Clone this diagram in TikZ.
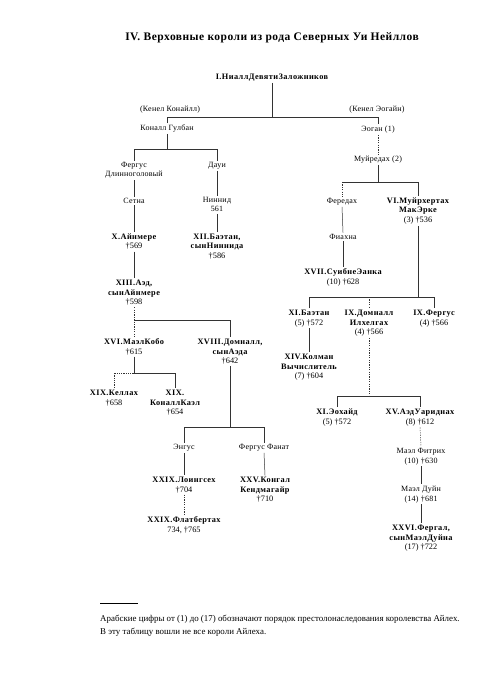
\documentclass[tikz,border=0pt]{standalone}
\usepackage{fontspec}
\setmainfont{Liberation Serif}
\begin{document}
\begin{tikzpicture}[x=1pt,y=-1pt,
  nm/.style={font=\fontsize{8}{9.5}\selectfont\addfontfeatures{LetterSpace=3}, align=center, inner sep=1.5pt, anchor=base},
  kg/.style={nm, font=\bfseries\fontsize{8.3}{9.5}\selectfont\addfontfeatures{LetterSpace=5}},
  ln/.style={line width=0.5pt, draw=black!80},
  dl/.style={ln, dash pattern=on 1.2pt off 1.2pt},
  dt/.style={ln, dash pattern=on 0.6pt off 1.2pt}]
\fill[white] (0,0) rectangle (499,700);
\useasboundingbox (0,0) rectangle (499,700);
% title
\node[anchor=base, inner sep=0pt, font=\bfseries\fontsize{11.5}{13}\selectfont\addfontfeatures{LetterSpace=4}] (title) at (272,41) {IV. Верховные короли из рода Северных Уи Нейллов};
% top
\node[kg] (niall) at (272,79.5) {I.НиаллДевятиЗаложников};
\node[nm] (kkon) at (170,111.5) {(Кенел Конайлл)};
\node[nm] (keog) at (377,111.5) {(Кенел Эогайн)};
\node[nm] (conall) at (167,130.5) {Коналл Гулбан};
\node[nm] (eogan) at (378,131.5) {Эоган (1)};
% left branch
\node[nm] (fergus) at (134,177) {Фергус\\Длинноголовый};
\node[nm] (daui) at (217,167.5) {Дауи};
\node[nm] (setna) at (134,203.5) {Сетна};
\node[nm] (ninnid) at (217,212) {Ниннид\\561};
\node[kg] (aynmere) at (134,249) {X.Айнмере\\\normalfont†569};
\node[kg] (baetan12) at (217,258.5) {XII.Баэтан,\\сынНиннида\\\normalfont†586};
\node[kg] (aed) at (134,304.5) {XIII.Аэд,\\сынАйнмере\\\normalfont†598};
\node[kg] (maelcobo) at (134,354) {XVI.МаэлКобо\\\normalfont†615};
\node[kg] (domnall18) at (230,363.5) {XVIII.Домналл,\\сынАэда\\\normalfont†642};
\node[kg] (kellach) at (114,405) {XIX.Келлах\\\normalfont†658};
\node[kg] (conallcael) at (175,414.5) {XIX.\\КоналлКаэл\\\normalfont†654};
\node[nm] (engus) at (184,449.5) {Энгус};
\node[nm] (ferganat) at (264,449.5) {Фергус Фанат};
\node[kg] (loingsech) at (184,492) {XXIX.Лоингсех\\\normalfont†704};
\node[kg] (flatbertach) at (184,532) {XXIX.Флатбертах\\\normalfont 734, †765};
\node[kg] (congal) at (265,501.5) {XXV.Конгал\\Кендмагайр\\\normalfont†710};
% right branch
\node[nm] (muiredach) at (378,161.5) {Муйредах (2)};
\node[nm] (feredach) at (342,203.5) {Фередах};
\node[kg] (muirchertach) at (418,222.5) {VI.Муйрхертах\\МакЭрке\\\normalfont(3) †536};
\node[nm] (fiachna) at (343,239.5) {Фиахна};
\node[kg] (suibne) at (343,284) {XVII.СуибнеЭанка\\\normalfont(10) †628};
\node[kg] (baetan11) at (309,325) {XI.Баэтан\\\normalfont(5) †572};
\node[kg] (domnall9) at (369,334.5) {IX.Домналл\\Илхелгах\\\normalfont(4) †566};
\node[kg] (fergus9) at (434,325) {IX.Фергус\\\normalfont(4) †566};
\node[kg] (colman) at (309,378.5) {XIV.Колман\\Вычислитель\\\normalfont(7) †604};
\node[kg] (eochaid) at (337,424) {XI.Эохайд\\\normalfont(5) †572};
\node[kg] (aedu) at (420,424) {XV.АэдУариднах\\\normalfont(8) †612};
\node[nm] (mfitrich) at (421,463) {Маэл Фитрих\\(10) †630};
\node[nm] (mduin) at (421,501) {Маэл Дуйн\\(14) †681};
\node[kg] (fergal) at (421,549.5) {XXVI.Фергал,\\сынМаэлДуйна\\\normalfont(17) †722};
% bars
\coordinate (b0) at (0,117);
\coordinate (b1) at (0,149);
\coordinate (b2) at (0,182);
\coordinate (b3) at (0,320);
\coordinate (b4) at (0,373);
\coordinate (b5) at (0,427);
\coordinate (b6) at (0,297);
\coordinate (b7) at (0,396);
% connectors
\draw[ln] (niall.south) -- (niall.south |- b0);
\draw[ln] (conall.north) -- (conall.north |- b0) -- (eogan.north |- b0) -- (eogan.north);
\draw[ln] (conall.south) -- (conall.south |- b1);
\draw[ln] (fergus.north) -- (fergus.north |- b1) -- (daui.north |- b1) -- (daui.north);
\draw[ln] (fergus.south) -- (setna.north);
\draw[ln] (daui.south) -- (ninnid.north);
\draw[ln] (setna.south) -- (aynmere.north);
\draw[ln] (ninnid.south) -- (baetan12.north);
\draw[ln] (aynmere.south) -- (aed.north);
\draw[dl] (aed.south) -- (maelcobo.north);
\draw[ln] (aed.south |- b3) -- (domnall18.north |- b3) -- (domnall18.north);
\draw[ln] (maelcobo.south) -- (maelcobo.south |- b4) -- (conallcael.north |- b4) -- (conallcael.north);
\draw[dt] (maelcobo.south |- b4) -- (kellach.north |- b4) -- (kellach.north);
\draw[ln] (domnall18.south) -- (domnall18.south |- b5);
\draw[ln] (engus.north) -- (engus.north |- b5) -- (ferganat.north |- b5) -- (ferganat.north);
\draw[ln] (engus.south) -- (loingsech.north);
\draw[dl] (loingsech.south) -- (flatbertach.north);
\draw[ln] (ferganat.south) -- (congal.north);
\draw[dl] (eogan.south) -- (muiredach.north);
\draw[ln] (muiredach.south) -- (muiredach.south |- b2);
\draw[ln] (feredach.north |- b2) -- (muirchertach.north |- b2) -- (muirchertach.north);
\draw[dl] (feredach.north |- b2) -- (feredach.north);
\draw[ln] (feredach.south) -- (fiachna.north);
\draw[ln] (fiachna.south) -- (suibne.north);
\draw[ln] (muirchertach.south) -- (muirchertach.south |- b6);
\draw[ln] (baetan11.north) -- (baetan11.north |- b6) -- (fergus9.north |- b6) -- (fergus9.north);
\draw[dl] (domnall9.north |- b6) -- (domnall9.north);
\draw[ln] (baetan11.south) -- (colman.north);
\draw[dl] (domnall9.south) -- (domnall9.south |- b7);
\draw[ln] (eochaid.north) -- (eochaid.north |- b7) -- (aedu.north |- b7) -- (aedu.north);
\draw[dl] (aedu.south) -- (mfitrich.north);
\draw[ln] (mfitrich.south) -- (mduin.north);
\draw[ln] (mduin.south) -- (fergal.north);
% footnote
\coordinate (fr) at (100,603);
\draw[line width=0.4pt] (fr) -- ++(38,0);
\node[anchor=base west, inner sep=0pt, font=\fontsize{8.9}{9}\selectfont] (fn1) at (100,621.5) {Арабские цифры от (1) до (17) обозначают порядок престолонаследования королевства Айлех.};
\node[anchor=base west, inner sep=0pt, font=\fontsize{8.9}{9}\selectfont] (fn2) at (100,634.5) {В эту таблицу вошли не все короли Айлеха.};
\end{tikzpicture}
\end{document}
